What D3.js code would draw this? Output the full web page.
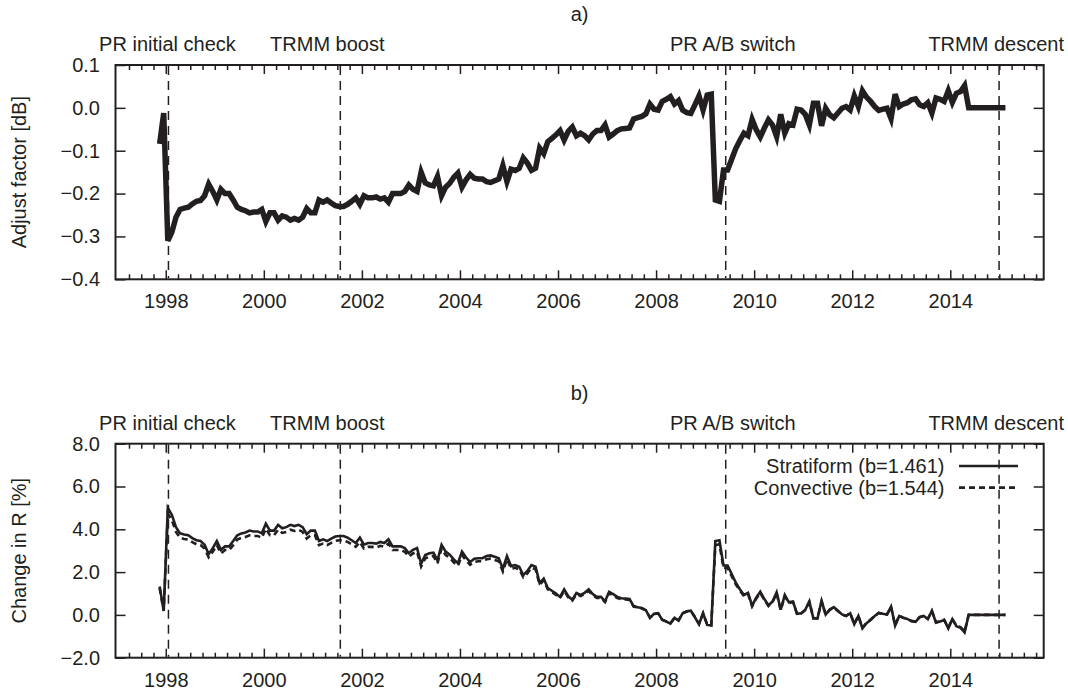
<!DOCTYPE html>
<html>
<head>
<meta charset="utf-8">
<script src="https://cdn.jsdelivr.net/npm/d3@7"></script>
<style>
  body { margin: 0; background: #fff; }
  text { font-family: "Liberation Sans", Arial, Helvetica, sans-serif; fill: #231f20; }
</style>
</head>
<body>
<svg id="chart" width="1068" height="691"></svg>
<script>
// monthly values, first month is Nov 1997 (decimal year, mid month)
var firstMonth = 1997.875;

var adjustFactor = [
  -0.084, -0.012, -0.31, -0.29, -0.255, -0.237, -0.234, -0.232, -0.224, -0.218, -0.216, -0.205,
  -0.178, -0.195, -0.215, -0.19, -0.2, -0.2, -0.215, -0.232, -0.237, -0.24, -0.245, -0.243,
  -0.243, -0.237, -0.265, -0.245, -0.245, -0.262, -0.252, -0.255, -0.262, -0.258, -0.262, -0.255,
  -0.235, -0.245, -0.245, -0.215, -0.22, -0.215, -0.222, -0.228, -0.23, -0.23, -0.225, -0.218,
  -0.21, -0.225, -0.205, -0.21, -0.21, -0.208, -0.213, -0.21, -0.22, -0.2, -0.2, -0.2,
  -0.195, -0.18, -0.19, -0.195, -0.15, -0.175, -0.18, -0.182, -0.16, -0.205, -0.185, -0.176,
  -0.162, -0.152, -0.185, -0.168, -0.155, -0.164, -0.166, -0.166, -0.172, -0.174, -0.17, -0.166,
  -0.135, -0.172, -0.143, -0.146, -0.141, -0.117, -0.129, -0.146, -0.141, -0.094, -0.107, -0.079,
  -0.071, -0.063, -0.053, -0.075, -0.055, -0.045, -0.065, -0.059, -0.065, -0.075, -0.061, -0.053,
  -0.053, -0.04, -0.068, -0.061, -0.053, -0.049, -0.048, -0.047, -0.026, -0.023, -0.02, -0.014,
  0.009, -0.003, -0.005, 0.015, 0.02, 0.026, 0.009, 0.017, -0.005, -0.011, -0.013, 0.007,
  0.028, -0.005, 0.03, 0.032, -0.215, -0.218, -0.145, -0.145, -0.12, -0.095, -0.076, -0.059,
  -0.065, -0.027, -0.051, -0.068, -0.047, -0.028, -0.04, -0.067, -0.015, -0.059, -0.037, -0.04,
  -0.003, -0.005, -0.015, -0.04, 0.011, 0.011, -0.042, -0.001, -0.016, -0.023, -0.012, -0.001,
  0.003, -0.005, 0.028, 0.003, 0.04, 0.025, 0.015, 0.003, -0.006, -0.003, -0.001, -0.025,
  0.032, 0.003, 0.009, 0.012, 0.019, 0.021, 0.007, 0.003, 0.012, -0.012, 0.023, 0.02,
  0.015, 0.04, 0.013, 0.034, 0.038, 0.052, 0, 0, 0, 0, 0, 0,
  0, 0, 0, 0
];

var stratiform = [
  1.33, 0.19, 5.00, 4.67, 4.10, 3.81, 3.76, 3.72, 3.59, 3.49, 3.46, 3.28,
  2.84, 3.12, 3.45, 3.04, 3.20, 3.20, 3.45, 3.72, 3.81, 3.85, 3.94, 3.90,
  3.90, 3.81, 4.26, 3.94, 3.94, 4.21, 4.05, 4.10, 4.21, 4.15, 4.21, 4.10,
  3.77, 3.94, 3.94, 3.45, 3.53, 3.45, 3.56, 3.66, 3.69, 3.69, 3.61, 3.49,
  3.36, 3.61, 3.28, 3.36, 3.36, 3.33, 3.41, 3.36, 3.53, 3.20, 3.20, 3.20,
  3.12, 2.88, 3.04, 3.12, 2.39, 2.80, 2.88, 2.91, 2.55, 3.28, 2.96, 2.81,
  2.59, 2.42, 2.96, 2.68, 2.47, 2.62, 2.65, 2.65, 2.75, 2.78, 2.72, 2.65,
  2.15, 2.75, 2.28, 2.33, 2.25, 1.86, 2.05, 2.33, 2.25, 1.49, 1.70, 1.25,
  1.13, 1.00, 0.84, 1.19, 0.87, 0.71, 1.03, 0.93, 1.03, 1.19, 0.97, 0.84,
  0.84, 0.63, 1.08, 0.97, 0.84, 0.78, 0.76, 0.74, 0.41, 0.36, 0.32, 0.22,
  -0.14, 0.05, 0.08, -0.24, -0.31, -0.41, -0.14, -0.27, 0.08, 0.17, 0.20, -0.11,
  -0.44, 0.08, -0.47, -0.50, 3.45, 3.49, 2.31, 2.31, 1.91, 1.51, 1.20, 0.93,
  1.03, 0.43, 0.81, 1.08, 0.74, 0.44, 0.63, 1.06, 0.24, 0.93, 0.59, 0.63,
  0.05, 0.08, 0.24, 0.63, -0.17, -0.17, 0.66, 0.02, 0.25, 0.36, 0.19, 0.02,
  -0.05, 0.08, -0.44, -0.05, -0.63, -0.39, -0.24, -0.05, 0.09, 0.05, 0.02, 0.39,
  -0.50, -0.05, -0.14, -0.19, -0.30, -0.33, -0.11, -0.05, -0.19, 0.19, -0.36, -0.31,
  -0.24, -0.63, -0.20, -0.53, -0.60, -0.82, 0, 0, 0, 0, 0, 0,
  0, 0, 0, 0
];

var convective = [
  1.26, 0.18, 4.73, 4.42, 3.88, 3.60, 3.55, 3.52, 3.40, 3.30, 3.27, 3.10,
  2.69, 2.95, 3.26, 2.87, 3.03, 3.03, 3.26, 3.52, 3.60, 3.64, 3.72, 3.69,
  3.69, 3.60, 4.03, 3.72, 3.72, 3.98, 3.83, 3.88, 3.98, 3.92, 3.98, 3.88,
  3.57, 3.72, 3.72, 3.26, 3.33, 3.26, 3.37, 3.46, 3.49, 3.49, 3.41, 3.30,
  3.18, 3.41, 3.10, 3.18, 3.18, 3.15, 3.23, 3.18, 3.33, 3.03, 3.03, 3.03,
  2.95, 2.72, 2.87, 2.95, 2.26, 2.64, 2.72, 2.75, 2.41, 3.10, 2.80, 2.66,
  2.45, 2.29, 2.80, 2.54, 2.34, 2.48, 2.51, 2.51, 2.60, 2.63, 2.57, 2.51,
  2.03, 2.60, 2.16, 2.20, 2.13, 1.76, 1.94, 2.20, 2.13, 1.41, 1.61, 1.19,
  1.06, 0.94, 0.79, 1.12, 0.82, 0.67, 0.97, 0.88, 0.97, 1.12, 0.91, 0.79,
  0.79, 0.60, 1.02, 0.91, 0.79, 0.73, 0.72, 0.70, 0.39, 0.34, 0.30, 0.21,
  -0.13, 0.04, 0.07, -0.22, -0.30, -0.39, -0.13, -0.25, 0.07, 0.16, 0.19, -0.10,
  -0.42, 0.07, -0.45, -0.48, 3.26, 3.30, 2.19, 2.19, 1.81, 1.43, 1.14, 0.88,
  0.97, 0.40, 0.76, 1.02, 0.70, 0.42, 0.60, 1.00, 0.22, 0.88, 0.55, 0.60,
  0.04, 0.07, 0.22, 0.60, -0.16, -0.16, 0.63, 0.01, 0.24, 0.34, 0.18, 0.01,
  -0.04, 0.07, -0.42, -0.04, -0.60, -0.37, -0.22, -0.04, 0.09, 0.04, 0.01, 0.37,
  -0.48, -0.04, -0.13, -0.18, -0.28, -0.31, -0.10, -0.04, -0.18, 0.18, -0.34, -0.30,
  -0.22, -0.60, -0.19, -0.51, -0.57, -0.77, 0, 0, 0, 0, 0, 0,
  0, 0, 0, 0
];

var eventNames = ["PR initial check", "TRMM boost", "PR A/B switch", "TRMM descent"];
var eventDates = [1998.055, 2001.56, 2009.42, 2014.995];

var yearTicks = [1998, 2000, 2002, 2004, 2006, 2008, 2010, 2012, 2014];
var adjustTicks = [-0.4, -0.3, -0.2, -0.1, 0.0, 0.1];
var changeTicks = [-2, 0, 2, 4, 6, 8];
var legendNames = ["Stratiform (b=1.461)", "Convective (b=1.544)"];

var ink = "#231f20";
var left = 115.5, right = 1043.7;
var svg = d3.select("#chart");

svg.append("rect").attr("width", 1068).attr("height", 691).attr("fill", "#fff");

var x = d3.scaleLinear().domain([1996.975, 2015.905]).range([left, right]);
var months = adjustFactor.map(function(d, i) { return firstMonth + i / 12; });
var minorTicks = d3.range(1997.25, 2015.9, 0.25).filter(function(t) { return t % 2 !== 0; });

// label placement relative to the event line
var eventLabelDx = [-1, -13, 7, 0];
var eventLabelAnchor = ["middle", "middle", "middle", "end"];

function styleAxis(sel) {
  sel.select(".domain").remove();
  sel.selectAll(".tick line").attr("stroke", ink).attr("stroke-width", 1.5);
  sel.selectAll("text")
    .attr("font-size", 20)
    .attr("font-family", "'Liberation Sans', Arial, Helvetica, sans-serif")
    .attr("fill", ink);
  sel.attr("font-family", null).attr("font-size", null);
}

function drawPanel(top, bottom, yDomain, yTicks, yLabel, title) {
  var y = d3.scaleLinear().domain(yDomain).range([bottom, top]);
  var g = svg.append("g");

  // x axis bottom (major + minor) and mirrored on top
  g.append("g").attr("transform", "translate(0," + bottom + ")")
    .call(d3.axisBottom(x).tickValues(yearTicks).tickFormat(d3.format("d"))
      .tickSizeInner(-9).tickSizeOuter(0).tickPadding(15))
    .call(styleAxis);
  g.append("g").attr("transform", "translate(0," + bottom + ")")
    .call(d3.axisBottom(x).tickValues(minorTicks).tickFormat("")
      .tickSizeInner(-5).tickSizeOuter(0))
    .call(styleAxis);
  g.append("g").attr("transform", "translate(0," + top + ")")
    .call(d3.axisTop(x).tickValues(yearTicks).tickFormat("")
      .tickSizeInner(-9).tickSizeOuter(0))
    .call(styleAxis);
  g.append("g").attr("transform", "translate(0," + top + ")")
    .call(d3.axisTop(x).tickValues(minorTicks).tickFormat("")
      .tickSizeInner(-5).tickSizeOuter(0))
    .call(styleAxis);

  // y axis left and mirrored on right
  g.append("g").attr("transform", "translate(" + left + ",0)")
    .call(d3.axisLeft(y).tickValues(yTicks).tickFormat(d3.format(".1f"))
      .tickSizeInner(-10).tickSizeOuter(0).tickPadding(15.5))
    .call(styleAxis);
  g.append("g").attr("transform", "translate(" + right + ",0)")
    .call(d3.axisRight(y).tickValues(yTicks).tickFormat("")
      .tickSizeInner(-10).tickSizeOuter(0))
    .call(styleAxis);

  g.append("rect")
    .attr("x", left).attr("y", top)
    .attr("width", right - left).attr("height", bottom - top)
    .attr("fill", "none").attr("stroke", ink).attr("stroke-width", 2);

  // event markers
  g.selectAll(".event").data(eventDates).enter().append("line")
    .attr("class", "event")
    .attr("x1", function(d) { return x(d); }).attr("x2", function(d) { return x(d); })
    .attr("y1", top + 1).attr("y2", bottom - 1)
    .attr("stroke", ink).attr("stroke-width", 1.5)
    .attr("stroke-dasharray", "9,6");

  g.selectAll(".eventLabel").data(eventDates).enter().append("text")
    .attr("class", "eventLabel")
    .attr("x", function(d, i) { return eventLabelAnchor[i] === "end" ? 1064 : x(d) + eventLabelDx[i]; })
    .attr("y", top - 14)
    .attr("text-anchor", function(d, i) { return eventLabelAnchor[i]; })
    .attr("font-size", 20)
    .text(function(d, i) { return eventNames[i]; });

  g.append("text")
    .attr("x", (left + right) / 2).attr("y", top - 44)
    .attr("text-anchor", "middle").attr("font-size", 20)
    .text(title);

  g.append("text")
    .attr("transform", "translate(26," + (top + bottom) / 2 + ") rotate(-90)")
    .attr("text-anchor", "middle").attr("font-size", 20)
    .text(yLabel);

  return { g: g, y: y };
}

// panel a
var pa = drawPanel(65, 279.3, [-0.4, 0.1], adjustTicks, "Adjust factor [dB]", "a)");
var lineA = d3.line()
  .x(function(d, i) { return x(months[i]); })
  .y(function(d) { return pa.y(d); });
pa.g.append("path")
  .datum(adjustFactor)
  .attr("d", lineA)
  .attr("fill", "none")
  .attr("stroke", ink)
  .attr("stroke-width", 5.5)
  .attr("stroke-linejoin", "miter");

// panel b
var pb = drawPanel(443.7, 657.7, [-2, 8], changeTicks, "Change in R [%]", "b)");
var lineB = d3.line()
  .x(function(d, i) { return x(months[i]); })
  .y(function(d) { return pb.y(d); });
pb.g.append("path")
  .datum(stratiform)
  .attr("d", lineB)
  .attr("fill", "none").attr("stroke", ink).attr("stroke-width", 2.6);
pb.g.append("path")
  .datum(convective)
  .attr("d", lineB)
  .attr("fill", "none").attr("stroke", ink).attr("stroke-width", 2.6)
  .attr("stroke-dasharray", "6,4");

// legend
var legend = pb.g.selectAll(".legend").data(legendNames).enter().append("g")
  .attr("class", "legend")
  .attr("transform", function(d, i) { return "translate(0," + (466 + i * 21.6) + ")"; });
legend.append("text")
  .attr("x", 944.5).attr("y", 7.3)
  .attr("text-anchor", "end").attr("font-size", 20)
  .text(function(d) { return d; });
legend.append("line")
  .attr("x1", 959).attr("x2", 1018)
  .attr("stroke", ink).attr("stroke-width", 2.6)
  .attr("stroke-dasharray", function(d, i) { return i === 0 ? null : "6,4"; });
</script>
</body>
</html>
